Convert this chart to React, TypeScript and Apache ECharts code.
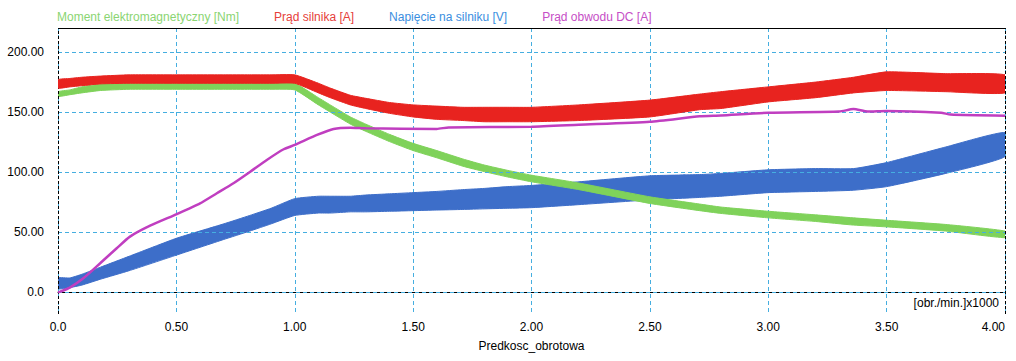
import React, { useEffect, useRef } from "react";
import * as echarts from "echarts";

// x values (obr./min. x1000) shared by the three noisy bands
const speed = [0, 0.05, 0.1, 0.18, 0.3, 0.5, 0.7, 0.81, 0.9, 1.0, 1.1, 1.15, 1.235, 1.3, 1.4, 1.5, 1.6, 1.71, 1.8, 1.9, 2.0, 2.2, 2.5, 2.71, 2.8, 3.0, 3.2, 3.36, 3.5, 3.75, 4.0];

// Moment elektromagnetyczny [Nm] - lower / upper edge of the band
const momentLow = [163, 164.5, 166, 168, 169, 169, 169, 169, 169, 168.5, 156, 150, 140, 134, 125.5, 118, 112, 105, 100.5, 96, 92, 85.5, 74, 68, 65.7, 62, 59, 56, 54.5, 51, 45.5];
const momentHigh = [167, 168.5, 171, 173.5, 174.5, 174.5, 174.5, 174.5, 174.5, 174, 162, 156, 146, 140, 131.5, 124, 118, 111, 106, 101.5, 97.5, 91, 79.5, 73.5, 71, 67.5, 64.5, 62, 60, 56.5, 51];

// Prąd silnika [A]
const motorLow = [170, 171, 172, 173.5, 174, 174, 174, 174, 174, 174, 166, 162, 156, 153, 149, 146, 144, 143, 142, 142, 142, 143, 146, 152, 153, 158.5, 162, 166, 168, 167, 166];
const motorHigh = [177, 178, 179, 180, 181, 181, 181, 181, 181, 181, 174, 170, 164, 161.5, 158, 156, 155, 154, 154, 154, 154, 156, 160, 165, 167, 171, 175, 179, 183.5, 182, 181];

// Napięcie na silniku [V]
const voltLow = [3, 4, 6, 11, 18, 31, 44, 51, 57, 64, 66, 66, 67, 67, 67.5, 68, 68.5, 69, 69.5, 70, 70.5, 73, 77, 79, 80, 83, 84, 85, 88, 99, 113];
const voltHigh = [12, 12, 15, 21, 30, 45, 57, 64, 70, 78, 80, 80, 80, 81, 82, 83, 84, 85.5, 86.5, 88, 89, 92, 97, 98, 99, 102, 103, 103, 108, 121, 133];

// Prąd obwodu DC [A]
const dcX = [0, 0.01, 0.05, 0.107, 0.178, 0.248, 0.304, 0.389, 0.502, 0.6, 0.671, 0.741, 0.812, 0.882, 0.953, 1.0, 1.094, 1.164, 1.235, 1.3, 1.6, 1.65, 2.0, 2.2, 2.5, 2.71, 2.8, 3.0, 3.3, 3.36, 3.42, 3.5, 3.73, 3.77, 4.0];
const dcY = [0, 0.6, 4, 11.7, 24.2, 36.7, 46.4, 55.5, 65.2, 74.1, 82.5, 90.8, 100.4, 110.2, 119.1, 122.7, 131, 136, 137, 136.5, 136, 137.3, 137.8, 139.5, 142, 146.5, 147.2, 149.5, 150.5, 152.5, 150.5, 151, 149.5, 148, 147];

const yGridValues = [0, 50, 100, 150, 200];
const names = ["Moment elektromagnetyczny [Nm]", "Prąd silnika [A]", "Napięcie na silniku [V]", "Prąd obwodu DC [A]"];

const FONT = "Arial, 'Liberation Sans', sans-serif";

export default function App() {
  const ref = useRef<HTMLDivElement>(null);
  useEffect(() => {
    const chart = echarts.init(ref.current!, null, { renderer: "svg" });

    const band = (name: string, low: number[], high: number[], color: string, z: number) => ({
      name,
      type: "custom",
      coordinateSystem: "cartesian2d",
      data: speed.map((x, i) => [x, low[i], high[i]]),
      encode: { x: 0, y: [1, 2] },
      itemStyle: { color },
      z,
      silent: true,
      clip: true,
      renderItem: (params: any, api: any) => {
        if (params.dataIndex !== 0) return null;
        const top = speed.map((x, i) => api.coord([x, high[i]]));
        const bottom = speed.map((x, i) => api.coord([x, low[i]])).reverse();
        return {
          type: "polygon",
          shape: { points: top.concat(bottom), smooth: 0.15 },
          style: { fill: color, stroke: color, lineWidth: 1 },
        };
      },
    });

    const option: any = {
      animation: false,
      backgroundColor: "#fff",
      legend: {
        left: 47,
        top: 6,
        icon: "none",
        itemWidth: 0,
        itemHeight: 10,
        itemGap: 30,
        selectedMode: false,
        textStyle: { fontSize: 12, fontFamily: FONT },
        data: [
          { name: names[0], textStyle: { color: "#8ad572" } },
          { name: names[1], textStyle: { color: "#e6403a" } },
          { name: names[2], textStyle: { color: "#3a8ee0" } },
          { name: names[3], textStyle: { color: "#c64ec6" } },
        ],
      },
      grid: { left: 58, right: 11, top: 28, bottom: 47, show: false },
      xAxis: {
        type: "value",
        min: 0,
        max: 4,
        interval: 0.5,
        name: "Predkosc_obrotowa",
        nameLocation: "middle",
        nameGap: 26,
        nameTextStyle: { color: "#000", fontSize: 12, fontFamily: FONT },
        axisLine: { show: true, lineStyle: { color: "#000", width: 1 } },
        axisTick: { show: false },
        axisLabel: {
          color: "#000",
          fontSize: 12,
          fontFamily: FONT,
          margin: 7,
          alignMaxLabel: "right",
          formatter: (v: number) => (v === 0 ? "0.0" : v.toFixed(2)),
        },
        splitLine: { show: true, lineStyle: { color: "#45aee0", type: [4, 3], width: 1 } },
      },
      yAxis: {
        type: "value",
        min: -18,
        max: 220,
        interval: 2,
        axisLine: { show: false },
        axisTick: { show: false },
        splitLine: { show: false },
        axisLabel: {
          color: "#000",
          fontSize: 12,
          fontFamily: FONT,
          margin: 14,
          formatter: (v: number) => (v === 0 ? "0.0" : v % 50 === 0 ? v.toFixed(2) : ""),
        },
      },
      graphic: [
        {
          type: "text",
          right: 17,
          top: 297,
          style: { text: "[obr./min.]x1000", fill: "#000", font: "12px " + FONT },
          z: 100,
        },
      ],
      series: [
        {
          name: "grid",
          type: "line",
          data: [],
          z: 1,
          silent: true,
          markLine: {
            silent: true,
            symbol: "none",
            label: { show: false },
            lineStyle: { color: "#45aee0", type: [4, 3], width: 1 },
            data: yGridValues.map((v) => ({ yAxis: v })),
          },
        },
        band(names[2], voltLow, voltHigh, "#3d6ec9", 3),
        band(names[0], momentLow, momentHigh, "#7fd25a", 4),
        band(names[1], motorLow, motorHigh, "#e8231f", 5),
        {
          name: names[3],
          type: "line",
          data: dcX.map((x, i) => [x, dcY[i]]),
          symbol: "none",
          smooth: 0.2,
          lineStyle: { width: 2.5, color: "#c03ec0" },
          itemStyle: { color: "#c03ec0" },
          z: 6,
          silent: true,
        },
        {
          name: "frame",
          type: "line",
          data: [],
          z: 10,
          silent: true,
          markLine: {
            silent: true,
            symbol: "none",
            label: { show: false },
            lineStyle: { color: "#000", type: "solid", width: 1 },
            data: [
              { yAxis: 220 },
              { xAxis: 0, lineStyle: { color: "#000", type: [3, 2], width: 1 } },
              { xAxis: 4, lineStyle: { color: "#000", type: [3, 2], width: 1 } },
            ],
          },
        },
      ],
    };

    chart.setOption(option);
    return () => chart.dispose();
  }, []);

  return (
    <div
      ref={ref}
      style={{ position: "fixed", left: 0, top: 0, width: 1016, height: 361, background: "#fff" }}
    />
  );
}
